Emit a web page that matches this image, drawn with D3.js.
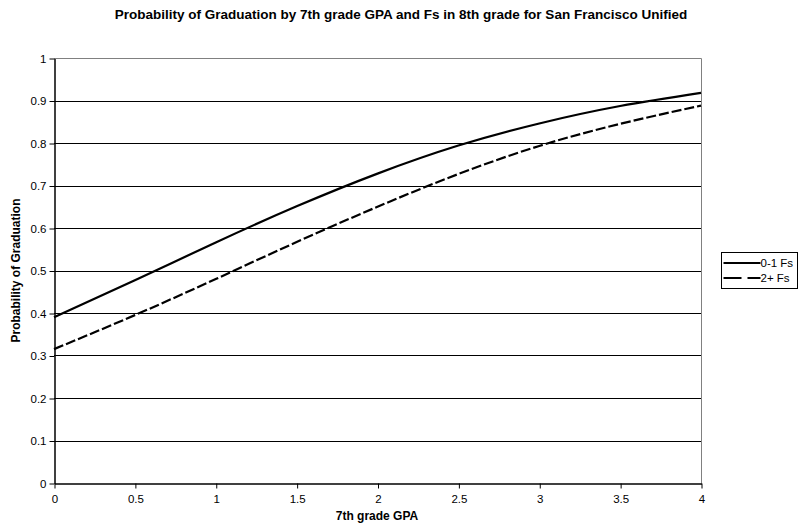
<!DOCTYPE html>
<html>
<head>
<meta charset="utf-8">
<script src="https://cdn.jsdelivr.net/npm/d3@7"></script>
<style>
  body { margin: 0; background: #fff; }
  text { font-family: "Liberation Sans", Arial, sans-serif; }
</style>
</head>
<body>
<svg id="chart" width="803" height="531"></svg>
<script>
const gpa = [0, 0.5, 1, 1.5, 2, 2.5, 3, 3.5, 4];
const lowFs = [0.39, 0.477, 0.566, 0.651, 0.728, 0.794, 0.846, 0.887, 0.918];
const highFs = [0.315, 0.395, 0.48, 0.567, 0.65, 0.727, 0.793, 0.845, 0.888];
const seriesNames = ['0-1 Fs', '2+ Fs'];
const yTicks = [0, 0.1, 0.2, 0.3, 0.4, 0.5, 0.6, 0.7, 0.8, 0.9, 1];
const xTicks = [0, 0.5, 1, 1.5, 2, 2.5, 3, 3.5, 4];

const svg = d3.select('#chart');
const m = { left: 54, right: 701, top: 58, bottom: 483 };

const x = d3.scaleLinear().domain([0, 4]).range([m.left, m.right]);
const y = d3.scaleLinear().domain([0, 1]).range([m.bottom, m.top]);

// gridlines
svg.append('g')
  .selectAll('line')
  .data(yTicks.filter((d) => d > 0))
  .join('line')
  .attr('x1', m.left)
  .attr('x2', m.right)
  .attr('y1', (d) => Math.round(y(d)) + 0.5)
  .attr('y2', (d) => Math.round(y(d)) + 0.5)
  .attr('stroke', '#000');

// top/right border
svg.append('path')
  .attr('d', `M${m.left},${m.top + 0.5}H${m.right + 0.5}V${m.bottom}`)
  .attr('fill', 'none')
  .attr('stroke', '#808080');

const yAxis = svg.append('g')
  .attr('transform', `translate(${m.left + 0.5},0.5)`)
  .call(d3.axisLeft(y).tickValues(yTicks).tickFormat(d3.format('')).tickSize(5).tickPadding(3).tickSizeOuter(0));

const xAxis = svg.append('g')
  .attr('transform', `translate(0.5,${m.bottom + 0.5})`)
  .call(d3.axisBottom(x).tickValues(xTicks).tickFormat(d3.format('')).tickSize(5).tickPadding(6).tickSizeOuter(0));

[yAxis, xAxis].forEach((ax) => {
  ax.selectAll('text').attr('font-size', 11.5).attr('fill', '#000')
    .attr('font-family', '"Liberation Sans", Arial, sans-serif');
  ax.select('.domain').attr('stroke', '#000').attr('stroke-width', 1.5);
  ax.selectAll('.tick line').attr('stroke', '#000');
});

const line = d3.line()
  .curve(d3.curveNatural)
  .x((d, i) => x(gpa[i]))
  .y((d) => y(d));

svg.append('path')
  .datum(lowFs)
  .attr('d', line)
  .attr('fill', 'none')
  .attr('stroke', '#000')
  .attr('stroke-width', 2.2);

svg.append('path')
  .datum(highFs)
  .attr('d', line)
  .attr('fill', 'none')
  .attr('stroke', '#000')
  .attr('stroke-width', 2.2)
  .attr('stroke-dasharray', '10,3');

// title and axis labels
svg.append('text')
  .attr('x', 401)
  .attr('y', 19)
  .attr('text-anchor', 'middle')
  .attr('font-size', 13.5)
  .attr('font-weight', 'bold')
  .text('Probability of Graduation by 7th grade GPA and Fs in 8th grade for San Francisco Unified');

svg.append('text')
  .attr('x', 377)
  .attr('y', 520)
  .attr('text-anchor', 'middle')
  .attr('font-size', 12)
  .attr('font-weight', 'bold')
  .text('7th grade GPA');

svg.append('text')
  .attr('transform', `translate(20,${(m.top + m.bottom) / 2}) rotate(-90)`)
  .attr('text-anchor', 'middle')
  .attr('font-size', 12)
  .attr('font-weight', 'bold')
  .text('Probability of Graduation');

// legend
const legend = svg.append('g').attr('transform', 'translate(721.5,252.5)');
legend.append('rect')
  .attr('width', 76)
  .attr('height', 36)
  .attr('fill', '#fff')
  .attr('stroke', '#000');

seriesNames.forEach((name, i) => {
  const ly = 10.5 + i * 15;
  legend.append('line')
    .attr('x1', 2).attr('x2', 39)
    .attr('y1', ly).attr('y2', ly)
    .attr('stroke', '#000')
    .attr('stroke-width', 2.2)
    .attr('stroke-dasharray', i === 1 ? '18,6' : null);
  legend.append('text')
    .attr('x', 39)
    .attr('y', ly + 4)
    .attr('font-size', 11.5)
    .text(name);
});
</script>
</body>
</html>
